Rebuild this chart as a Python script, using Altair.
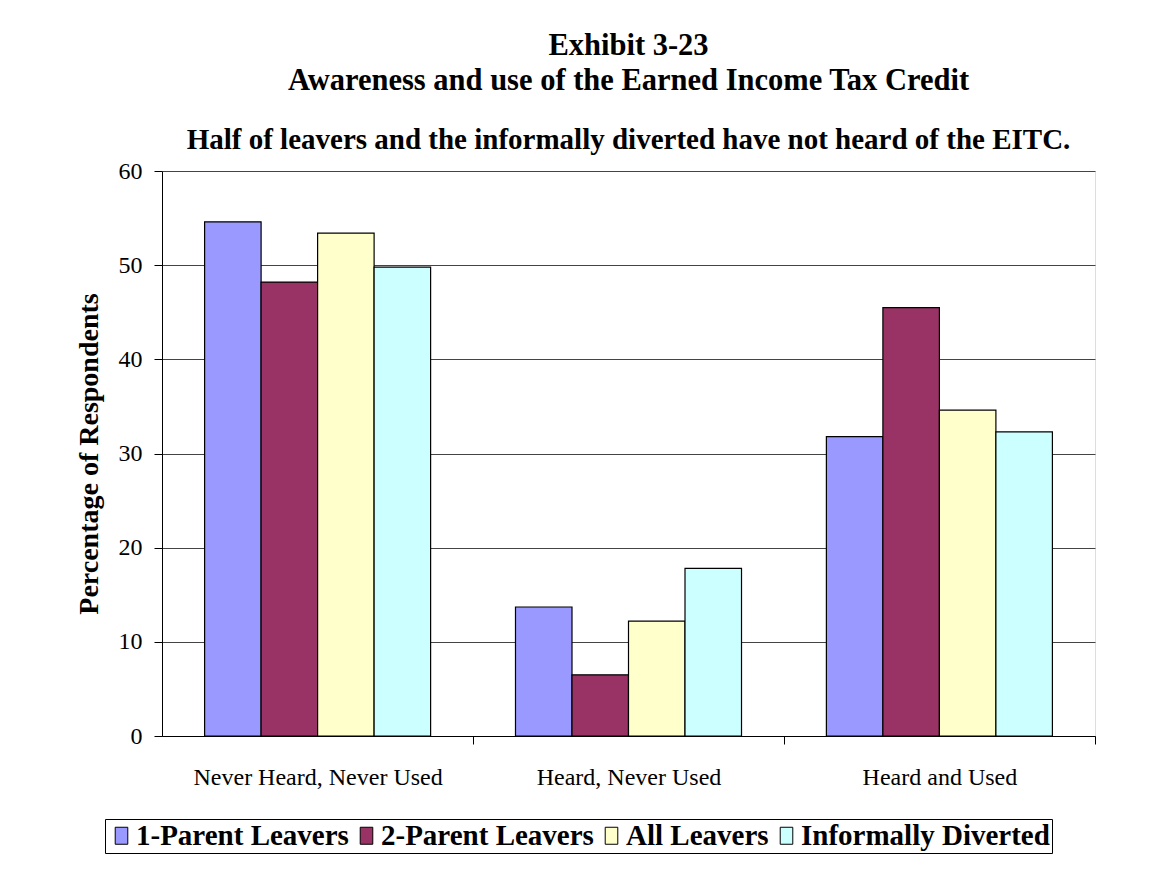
import altair as alt
import pandas as pd

categories = ["Never Heard, Never Used", "Heard, Never Used", "Heard and Used"]
series = ["1-Parent Leavers", "2-Parent Leavers", "All Leavers", "Informally Diverted"]
one_parent = [54.6, 13.7, 31.8]
two_parent = [48.2, 6.5, 45.5]
all_leavers = [53.4, 12.2, 34.6]
informal = [49.8, 17.8, 32.3]
colors = ["#9999FF", "#993366", "#FFFFCC", "#CCFFFF"]
y_ticks = [0, 10, 20, 30, 40, 50, 60]

rows = []
for s, vals in zip(series, [one_parent, two_parent, all_leavers, informal]):
    for c, v in zip(categories, vals):
        rows.append({"category": c, "series": s, "value": v})
df = pd.DataFrame(rows)

FONT = "Liberation Serif"

bars = alt.Chart(df).mark_bar(stroke="black", strokeWidth=1.2).encode(
    x=alt.X(
        "category:N",
        sort=categories,
        scale=alt.Scale(paddingInner=0.273, paddingOuter=0.137),
        axis=alt.Axis(
            title=None, labelAngle=0, labelFontSize=24, labelFont=FONT,
            labelColor="black", tickColor="black", tickSize=8,
            tickOffset=155.5, labelOffset=-155.5,
            domainColor="black", labelPadding=21, labelLimit=400,
        ),
    ),
    xOffset=alt.XOffset("series:N", sort=series, scale=alt.Scale(paddingInner=0, paddingOuter=0)),
    y=alt.Y(
        "value:Q",
        scale=alt.Scale(domain=[0, 60], nice=False),
        axis=alt.Axis(
            title="Percentage of Respondents", values=y_ticks, titleFontSize=28,
            titleFont=FONT, titleFontWeight="bold", titleColor="black", titlePadding=15,
            labelFontSize=24, labelFont=FONT, labelColor="black", labelPadding=12,
            tickColor="black", tickSize=8, domainColor="black",
            grid=True, gridColor="#444444", gridWidth=1,
        ),
    ),
    color=alt.Color(
        "series:N",
        sort=series,
        scale=alt.Scale(domain=series, range=colors),
        legend=alt.Legend(
            title=None, orient="none", direction="horizontal",
            legendX=-57, legendY=648,
            labelFont=FONT, labelFontSize=29, labelFontWeight="bold", labelColor="black",
            symbolType="M-0.74,-1h1.48v2h-1.48z", symbolSize=289,
            symbolStrokeColor="black", symbolStrokeWidth=1,
            labelOffset=0, columnPadding=3,
            strokeColor="black", padding=2, fillColor="white", labelLimit=400,
        ),
    ),
)

chart = bars.properties(
    width=933,
    height=565,
    title=alt.TitleParams(
        text=["Exhibit 3-23", "Awareness and use of the Earned Income Tax Credit"],
        subtitle="Half of leavers and the informally diverted have not heard of the EITC.",
        font=FONT, fontSize=30.5, fontWeight="bold", color="black", lineHeight=35,
        subtitleFont=FONT, subtitleFontSize=29, subtitleFontWeight="bold",
        subtitleColor="black", subtitlePadding=30,
        anchor="middle", frame="group", offset=4,
    ),
    padding={"left": 154, "top": 163, "right": 50, "bottom": 125},
    autosize=alt.AutoSizeParams(type="none"),
).configure_view(
    stroke="black", strokeWidth=1
).configure(
    background="white"
)

chart.save("out.html", embed_options={"renderer": "svg", "actions": False})
